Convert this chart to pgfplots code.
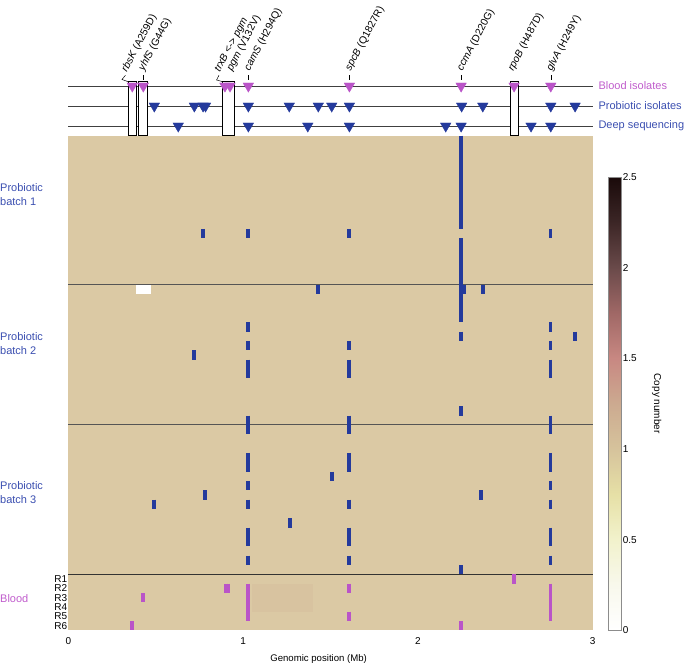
\documentclass[border=0pt]{standalone}
\usepackage{fontspec}
\setmainfont{Liberation Sans}
\setsansfont{Liberation Sans}
\usepackage{pgfplots}
\pgfplotsset{compat=1.18}
\definecolor{bgtan}{RGB}{219,201,164}
\definecolor{bgpink}{RGB}{216,195,160}
\definecolor{mkblue}{RGB}{36,58,156}
\definecolor{mkpink}{RGB}{186,84,200}
\definecolor{txtblue}{RGB}{58,78,176}
\definecolor{txtpink}{RGB}{192,92,204}
\definecolor{sepgray}{RGB}{85,85,85}
\newcommand\lbl{\fontsize{10.3}{12}\selectfont}

\pgfplotsset{
  bluemk/.style={only marks, mark=|, mark size=4.668pt, color=mkblue, mark options={line width=3.9pt}},
  pinkmk/.style={only marks, mark=|, mark size=4.668pt, color=mkpink, mark options={line width=3.9pt}},
  tri/.style={only marks, mark=triangle*, mark size=6.1pt, mark options={rotate=180}},
}
\tikzset{gene/.style={rotate=62, anchor=base west, inner sep=0pt, font=\lbl}}

\begin{document}
\begin{tikzpicture}
\begin{axis}[
  scale only axis,
  width=524.4pt, height=630.3pt,
  xmin=0, xmax=3, ymin=-14.513, ymax=53,
  y dir=reverse,
  clip=false,
  axis line style={draw=none},
  major tick length=0pt,
  xtick={0,1,2,3},
  ytick={47.5,48.5,49.5,50.5,51.5,52.5},
  yticklabels={R1,R2,R3,R4,R5,R6},
  tick label style={font=\fontsize{10}{12}\selectfont, /pgf/number format/assume math mode=true},
  yticklabel style={inner sep=1pt},
  xticklabel style={yshift=-4pt},
  xlabel={Genomic position (Mb)},
  xlabel style={at={(axis description cs:0.4773,-0.0455)}, anchor=center, font=\fontsize{9.6}{11}\selectfont},
  colormap={copynum}{rgb255(0cm)=(255,255,255); rgb255(1cm)=(248,248,236);
    rgb255(2cm)=(242,242,204); rgb255(3cm)=(230,224,166); rgb255(4cm)=(214,195,156);
    rgb255(5cm)=(204,170,144); rgb255(6cm)=(200,136,130); rgb255(7cm)=(160,104,102);
    rgb255(8cm)=(106,74,74); rgb255(9cm)=(60,38,38); rgb255(10cm)=(26,10,10)},
  point meta min=0, point meta max=2.5,
  colorbar,
  colorbar shift/.style={xshift=15.6pt},
  colorbar style={
    at={(parent axis.south east)}, anchor=south west,
    scale only axis, width=12.7pt, height=453.3pt,
    ytick={0,0.5,1,1.5,2,2.5},
    major tick length=0pt,
    axis line style={draw=black!45, line width=0.5pt},
    yticklabel style={font=\fontsize{10}{12}\selectfont, /pgf/number format/assume math mode=true, inner sep=1.5pt},
    ylabel={Copy number},
    ylabel style={at={(axis description cs:3.81,0.5)}, anchor=center, rotate=180, font=\fontsize{10}{12}\selectfont},
  },
]
% heatmap background (copy number ~1)
\addplot[draw=none, fill=bgtan] coordinates {(0,0) (3,0) (3,53) (0,53)};
\addplot[draw=none, fill=bgpink] coordinates {(1.05,48) (1.40,48) (1.40,51) (1.05,51)};
\addplot[draw=none, fill=white] coordinates {(0.387,16) (0.473,16) (0.473,17) (0.387,17)};

% batch separators
\addplot[sepgray, line width=1pt] coordinates {(0,16) (3,16)};
\addplot[sepgray, line width=1pt] coordinates {(0,31) (3,31)};
\addplot[black!80, line width=1pt] coordinates {(0,47) (3,47)};

% probiotic isolate variants
\addplot[bluemk] coordinates {
 (2.247,0.5) (2.247,1.5) (2.247,2.5) (2.247,3.5) (2.247,4.5) (2.247,5.5) (2.247,6.5) (2.247,7.5) (2.247,8.5) (2.247,9.5)
 (2.247,11.5) (2.247,12.5) (2.247,13.5) (2.247,14.5) (2.247,15.5) (2.247,16.5) (2.247,17.5) (2.247,18.5) (2.247,19.5)
 (2.247,21.5) (2.247,29.5) (2.247,46.5) (2.262,16.5)
 (0.771,10.5) (1.026,10.5) (1.606,10.5) (2.758,10.5)
 (1.430,16.5) (2.374,16.5)
 (1.026,20.5) (2.758,20.5)
 (2.899,21.5)
 (1.026,22.5) (1.606,22.5) (2.758,22.5)
 (0.717,23.5)
 (1.026,24.5) (1.606,24.5) (2.758,24.5)
 (1.026,25.5) (1.606,25.5) (2.758,25.5)
 (1.026,30.5) (1.606,30.5) (2.758,30.5)
 (1.026,31.5) (1.606,31.5) (2.758,31.5)
 (1.026,34.5) (1.606,34.5) (2.758,34.5)
 (1.026,35.5) (1.606,35.5) (2.758,35.5)
 (1.507,36.5)
 (1.026,37.5) (2.758,37.5)
 (0.782,38.5) (2.361,38.5)
 (0.490,39.5) (1.026,39.5) (1.606,39.5) (2.758,39.5)
 (1.266,41.5)
 (1.026,42.5) (1.606,42.5) (2.758,42.5)
 (1.026,43.5) (1.606,43.5) (2.758,43.5)
 (1.026,45.5) (1.606,45.5) (2.758,45.5)
};

% blood isolate variants
\addplot[pinkmk] coordinates {
 (2.550,47.5)
 (0.900,48.5) (0.915,48.5) (1.026,48.5) (1.606,48.5) (2.758,48.5)
 (0.426,49.5) (1.026,49.5) (2.758,49.5)
 (1.026,50.5) (2.758,50.5)
 (1.026,51.5) (1.606,51.5) (2.758,51.5)
 (0.364,52.5) (2.247,52.5)
};

% top panel: tracks
\addplot[black!75, line width=0.8pt] coordinates {(0,-5.302) (3,-5.302)};
\addplot[black!75, line width=0.8pt] coordinates {(0,-3.160) (3,-3.160)};
\addplot[black!75, line width=0.8pt] coordinates {(0,-1.018) (3,-1.018)};

% boxes round shared loci
\addplot[black, line width=0.6pt, fill=white] coordinates {(0.343,0) (0.343,-5.763) (0.391,-5.763) (0.391,0) (0.343,0)};
\addplot[black, line width=0.6pt, fill=white] coordinates {(0.400,0) (0.400,-5.763) (0.452,-5.763) (0.452,0) (0.400,0)};
\addplot[black, line width=0.6pt, fill=white] coordinates {(0.883,0) (0.883,-5.763) (0.948,-5.763) (0.948,0) (0.883,0)};
\addplot[black, line width=0.6pt, fill=white] coordinates {(2.527,0) (2.527,-5.763) (2.575,-5.763) (2.575,0) (2.527,0)};

% triangles
\addplot[tri, color=mkpink] coordinates {
 (0.366,-5.302) (0.429,-5.302) (0.896,-5.302) (0.925,-5.302) (1.030,-5.302)
 (1.608,-5.302) (2.247,-5.302) (2.550,-5.302) (2.760,-5.302)};
\addplot[tri, color=mkblue] coordinates {
 (0.492,-3.160) (0.721,-3.160) (0.771,-3.160) (0.785,-3.160) (1.030,-3.160) (1.264,-3.160)
 (1.430,-3.160) (1.507,-3.160) (1.608,-3.160) (2.250,-3.160) (2.371,-3.160) (2.760,-3.160) (2.899,-3.160)};
\addplot[tri, color=mkblue] coordinates {
 (0.629,-1.018) (1.030,-1.018) (1.370,-1.018) (1.608,-1.018) (2.159,-1.018)
 (2.247,-1.018) (2.647,-1.018) (2.760,-1.018)};

% label leaders
\pgfplotsinvokeforeach{0.426,1.030,1.608,2.247,2.760}{
  \addplot[black, line width=0.5pt] coordinates {(#1,-6.48) (#1,-5.94)};
}
\addplot[black, line width=0.5pt] coordinates {(0.343,-5.763) (0.307,-6.00) (0.327,-6.45)};
\addplot[black, line width=0.5pt] coordinates {(0.883,-5.763) (0.848,-5.95) (0.862,-6.45)};

% gene labels
\node[gene] at (axis cs:0.335,-6.75) {\textit{rbsK} (A259D)};
\node[gene] at (axis cs:0.432,-6.85) {\textit{yhfS} (G44G)};
\node[gene] at (axis cs:0.866,-6.75) {\textit{trxB} <-> \textit{pgm}};
\node[gene] at (axis cs:0.936,-6.85) {\textit{pgm} (V132V)};
\node[gene] at (axis cs:1.036,-6.85) {\textit{camS} (H294Q)};
\node[gene] at (axis cs:1.614,-6.85) {\textit{spcB} (Q1827R)};
\node[gene] at (axis cs:2.253,-6.85) {\textit{ccmA} (D220G)};
\node[gene] at (axis cs:2.545,-6.85) {\textit{rpoB} (H487D)};
\node[gene] at (axis cs:2.766,-6.85) {\textit{glvA} (H249Y)};

% track names
\node[anchor=west, inner sep=0pt, font=\fontsize{11}{13}\selectfont, text=txtpink] at (axis cs:3.032,-5.302) {Blood isolates};
\node[anchor=west, inner sep=0pt, font=\fontsize{11}{13}\selectfont, text=txtblue] at (axis cs:3.032,-3.160) {Probiotic isolates};
\node[anchor=west, inner sep=0pt, font=\fontsize{11}{13}\selectfont, text=txtblue] at (axis cs:3.032,-1.018) {Deep sequencing};

% group names
\node[anchor=west, align=left, inner sep=0pt, font=\fontsize{11}{14}\selectfont, text=txtblue] at (axis cs:-0.3907,6.37) {Probiotic\\batch 1};
\node[anchor=west, align=left, inner sep=0pt, font=\fontsize{11}{14}\selectfont, text=txtblue] at (axis cs:-0.3907,22.33) {Probiotic\\batch 2};
\node[anchor=west, align=left, inner sep=0pt, font=\fontsize{11}{14}\selectfont, text=txtblue] at (axis cs:-0.3907,38.24) {Probiotic\\batch 3};
\node[anchor=west, inner sep=0pt, font=\fontsize{11}{14}\selectfont, text=txtpink] at (axis cs:-0.3907,49.57) {Blood};

\coordinate (bbSW) at (axis cs:-0.3907,56.61);
\coordinate (bbNE) at (axis cs:3.5277,-14.513);
\end{axis}
\pgfresetboundingbox
\path[use as bounding box] (bbSW) rectangle (bbNE);
\end{tikzpicture}
\end{document}
